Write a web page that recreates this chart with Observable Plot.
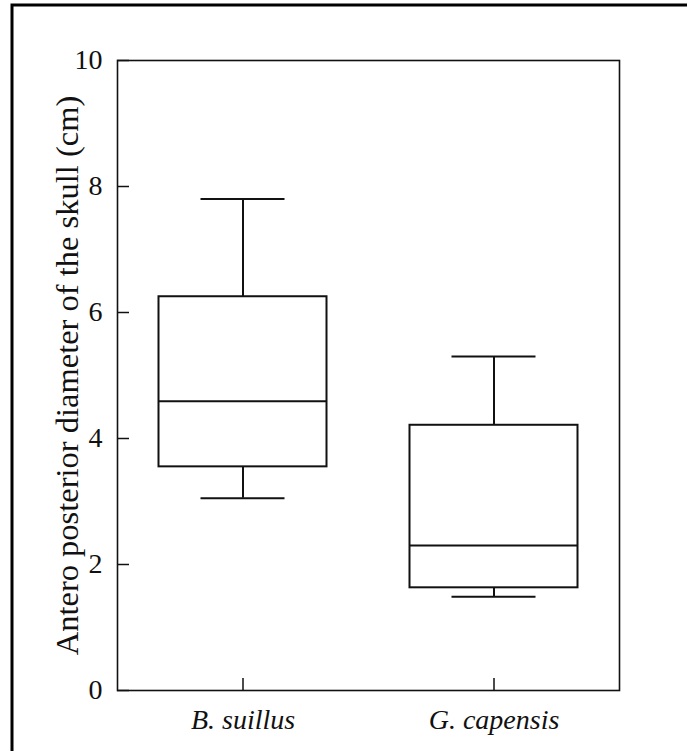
<!DOCTYPE html>
<html>
<head>
<meta charset="utf-8">
<script src="https://cdn.jsdelivr.net/npm/d3@7"></script>
<script src="https://cdn.jsdelivr.net/npm/@observablehq/plot@0.6"></script>
<style>
  html, body { margin: 0; padding: 0; background: #fff; }
  #chart svg { display: block; }
</style>
</head>
<body>
<div id="chart"></div>
<script>
const species = ["B. suillus", "G. capensis"];
const whiskerLow = [3.05, 1.49];
const q1 = [3.55, 1.63];
const median = [4.59, 2.30];
const q3 = [6.25, 4.21];
const whiskerHigh = [7.80, 5.30];
const yTicks = [0, 2, 4, 6, 8, 10];
const yLabel = "Antero posterior diameter of the skull (cm)";

const data = species.map((s, i) => ({
  species: s, lo: whiskerLow[i], q1: q1[i], median: median[i], q3: q3[i], hi: whiskerHigh[i]
}));

const W = 687, H = 751;
const mL = 117, mR = 68, mT = 60, mB = 61;
const frameW = W - mL - mR, frameH = H - mT - mB;
const bandW = frameW / species.length;
const boxInset = (bandW - 168) / 2;
const capInset = (bandW - 84) / 2;
const tickLen = 12;
const ink = "#111";

const chart = Plot.plot({
  width: W,
  height: H,
  marginLeft: mL,
  marginRight: mR,
  marginTop: mT,
  marginBottom: mB,
  style: { fontFamily: "'Liberation Serif', 'DejaVu Serif', serif", fontSize: "28px", color: ink, background: "#fff" },
  x: { domain: species, padding: 0, axis: null },
  y: { domain: [0, 10], axis: null },
  marks: [
    Plot.frame({ stroke: ink, strokeWidth: 1.6 }),
    Plot.axisY({ ticks: yTicks, tickSize: 0, tickPadding: 15, tickFormat: d => String(d), fontSize: 28 }),
    Plot.axisY({ ticks: [], tickSize: 0, fontSize: 32.5,
      label: yLabel, labelAnchor: "center", labelOffset: 63, labelArrow: "none" }),
    Plot.axisX({ tickSize: 0, tickPadding: 19, fontSize: 28, fontStyle: "italic", label: null }),
    Plot.tickY(yTicks, { y: d => d, insetRight: frameW - tickLen, stroke: ink, strokeWidth: 1.5 }),
    Plot.tickX(species, { x: d => d, insetTop: frameH - tickLen, stroke: ink, strokeWidth: 1.5 }),
    Plot.ruleX(data, { x: "species", y1: "lo", y2: "q1", stroke: ink, strokeWidth: 2 }),
    Plot.ruleX(data, { x: "species", y1: "q3", y2: "hi", stroke: ink, strokeWidth: 2 }),
    Plot.tickY(data, { x: "species", y: "lo", insetLeft: capInset, insetRight: capInset, stroke: ink, strokeWidth: 2 }),
    Plot.tickY(data, { x: "species", y: "hi", insetLeft: capInset, insetRight: capInset, stroke: ink, strokeWidth: 2 }),
    Plot.barY(data, { x: "species", y1: "q1", y2: "q3", fill: "none", stroke: ink, strokeWidth: 2,
      insetLeft: boxInset, insetRight: boxInset }),
    Plot.tickY(data, { x: "species", y: "median", insetLeft: boxInset, insetRight: boxInset, stroke: ink, strokeWidth: 2 })
  ]
});

// page border (top and left edges of the cropped figure frame)
d3.select(chart).append("path")
  .attr("d", `M12,${H} V5 H${W}`)
  .attr("fill", "none")
  .attr("stroke", "#000")
  .attr("stroke-width", 3);

document.getElementById("chart").appendChild(chart);
</script>
</body>
</html>
